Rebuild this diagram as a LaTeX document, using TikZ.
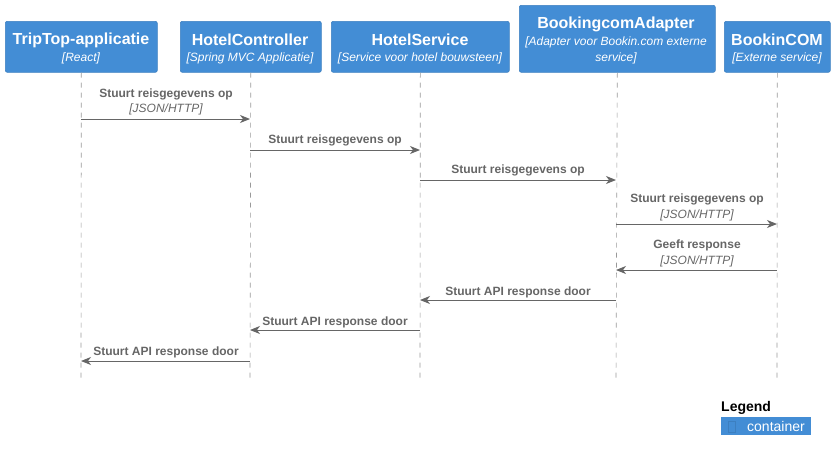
\documentclass[tikz,border=0pt]{standalone}
\usepackage{fontspec}
\setmainfont{Liberation Sans}
\usetikzlibrary{arrows.meta}
\definecolor{cblue}{HTML}{438DD5}
\definecolor{cborder}{HTML}{3C7FC0}
\definecolor{cgray}{HTML}{666666}
\definecolor{lgray}{HTML}{999999}
\tikzset{
  part/.style={fill=cblue, draw=cborder, line width=0.6pt, rounded corners=2pt},
  ttl/.style={text=white, font=\fontsize{16}{18}\selectfont\bfseries, inner sep=0pt, anchor=center},
  sub/.style={text=white, font=\fontsize{12}{14}\selectfont\itshape, inner sep=0pt, anchor=center},
  life/.style={draw=lgray, dash pattern=on 5pt off 5pt, line width=0.6pt},
  msg/.style={draw=cgray, line width=1pt, -{Stealth[length=10pt,width=8pt,inset=3pt]}},
  mlab/.style={text=cgray, font=\fontsize{12}{14}\selectfont\bfseries, inner sep=0pt},
  mtech/.style={text=cgray, font=\fontsize{12}{14}\selectfont\itshape, inner sep=0pt},
}
\begin{document}
\begin{tikzpicture}[x=1pt,y=-1pt]
\useasboundingbox (0,0) rectangle (836,461);
% participants
\node[part, minimum width=152pt, minimum height=51pt, anchor=north west, inner sep=0pt] (p1) at (5,21) {};
\node[part, minimum width=141pt, minimum height=51pt, anchor=north west, inner sep=0pt] (p2) at (180,21) {};
\node[part, minimum width=178pt, minimum height=51pt, anchor=north west, inner sep=0pt] (p3) at (331,21) {};
\node[part, minimum width=196pt, minimum height=67pt, anchor=north west, inner sep=0pt] (p4) at (519,5) {};
\node[part, minimum width=106pt, minimum height=51pt, anchor=north west, inner sep=0pt] (p5) at (724,21) {};
\node[ttl] (t1) at (81,40) {TripTop-applicatie};
\node[sub] (s1) at (81,58) {[React]};
\node[ttl] (t2) at (250,40) {HotelController};
\node[sub] (s2) at (250,58) {[Spring MVC Applicatie]};
\node[ttl] (t3) at (420,40) {HotelService};
\node[sub] (s3) at (420,58) {[Service voor hotel bouwsteen]};
\node[ttl] (t4) at (616,24) {BookingcomAdapter};
\node[sub] (s4a) at (616,42) {[Adapter voor Bookin.com externe};
\node[sub] (s4b) at (616,58) {service]};
\node[ttl] (t5) at (777,40) {BookinCOM};
\node[sub] (s5) at (777,58) {[Externe service]};
% lifeline ends
\coordinate (e1) at (81,378);
\coordinate (e2) at (250,378);
\coordinate (e3) at (420,378);
\coordinate (e4) at (616,378);
\coordinate (e5) at (777,378);
\draw[life] (p1.south) -- (e1);
\draw[life] (p2.south) -- (e2);
\draw[life] (p3.south) -- (e3);
\draw[life] (p4.south) -- (e4);
\draw[life] (p5.south) -- (e5);
% message anchor points
\foreach \n/\x in {1/81,2/250,3/420,4/616,5/777}{
  \foreach \m/\y in {a/119,b/150,c/180,d/224,e/270,f/300,g/330,h/361}{
    \coordinate (m\n\m) at (\x,\y);
  }
}
\draw[msg] (m1a) -- (m2a);
\node[mlab] (l1) at (166,94) {Stuurt reisgegevens op};
\node[mtech] (l1t) at (166,109) {[JSON/HTTP]};
\draw[msg] (m2b) -- (m3b);
\node[mlab] (l2) at (335,140) {Stuurt reisgegevens op};
\draw[msg] (m3c) -- (m4c);
\node[mlab] (l3) at (518,170) {Stuurt reisgegevens op};
\draw[msg] (m4d) -- (m5d);
\node[mlab] (l4) at (697,199) {Stuurt reisgegevens op};
\node[mtech] (l4t) at (697,215) {[JSON/HTTP]};
\draw[msg] (m5e) -- (m4e);
\node[mlab] (l5) at (697,245) {Geeft response};
\node[mtech] (l5t) at (697,261) {[JSON/HTTP]};
\draw[msg] (m4f) -- (m3f);
\node[mlab] (l6) at (518,292) {Stuurt API response door};
\draw[msg] (m3g) -- (m2g);
\node[mlab] (l7) at (335,322) {Stuurt API response door};
\draw[msg] (m2h) -- (m1h);
\node[mlab] (l8) at (166,352) {Stuurt API response door};
% legend
\node[font=\fontsize{14}{16}\selectfont\bfseries, inner sep=0pt, anchor=west] (lg) at (721,408) {Legend};
\node[fill=cblue, minimum width=90pt, minimum height=18pt, anchor=north west, inner sep=0pt] (lb) at (721,417) {};
\node[text=white, font=\fontsize{14}{16}\selectfont, inner sep=0pt, anchor=west] (lc) at (747,426.5) {container};
\draw[draw=cborder, line width=0.6pt] (728.5,421) rectangle (735,432);
\end{tikzpicture}
\end{document}
